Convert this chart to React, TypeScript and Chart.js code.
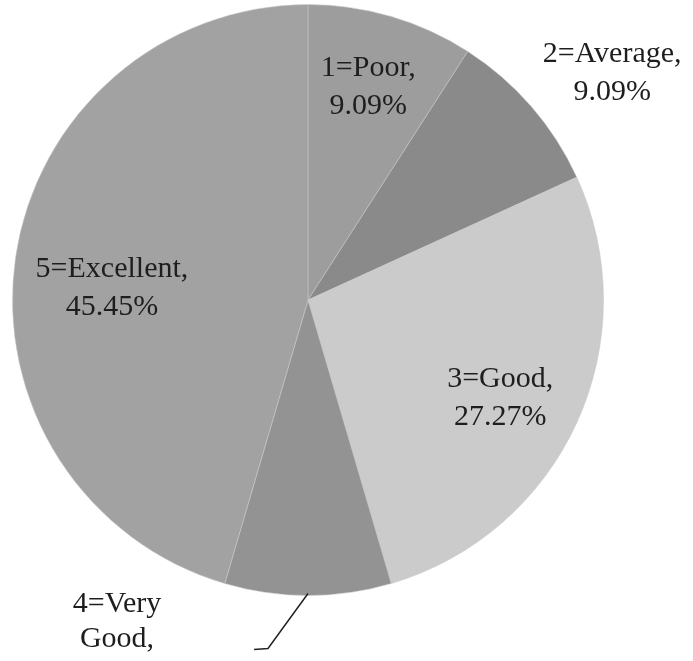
import React, { useEffect, useRef } from "react";
import { Chart, registerables } from "chart.js";

Chart.register(...registerables);

const categories = ["1=Poor", "2=Average", "3=Good", "4=Very Good", "5=Excellent"];
const labelLines = [
  ["1=Poor,", "9.09%"],
  ["2=Average,", "9.09%"],
  ["3=Good,", "27.27%"],
  ["4=Very", "Good,", "9.09%"],
  ["5=Excellent,", "45.45%"],
];
const values = [9.09, 9.09, 27.27, 9.09, 45.45];
const colors = ["#9d9d9d", "#8a8a8a", "#cbcbcb", "#939393", "#a2a2a2"];

// label placement: radius factor along mid-angle, plus pixel offset
const labelFactor = [0.76, 1.25, 0.73, 1.0, 0.66];
const labelOffset = [
  [-3, 0],
  [25, 13],
  [-4, 6],
  [0, 0],
  [-3, 14],
];

const labelPlugin = {
  id: "sliceLabels",
  afterDatasetsDraw(chart: any) {
    const ctx = chart.ctx;
    const meta = chart.getDatasetMeta(0);
    ctx.save();
    ctx.font = '30px "Liberation Serif", "Times New Roman", serif';
    ctx.fillStyle = "#1e1e1e";
    ctx.textAlign = "center";
    ctx.textBaseline = "alphabetic";
    meta.data.forEach((arc: any, i: number) => {
      const { x, y, startAngle, endAngle, outerRadius } = arc.getProps(
        ["x", "y", "startAngle", "endAngle", "outerRadius"],
        true
      );
      const mid = (startAngle + endAngle) / 2;
      const lines = labelLines[i];
      if (i === 3) {
        // leader line label
        const sx = x + Math.cos(mid) * outerRadius;
        const sy = y + Math.sin(mid) * outerRadius - 2;
        const ex = sx - 40;
        const ey = sy + 55;
        const fx = ex - 14;
        const fy = ey + 1;
        ctx.strokeStyle = "#222";
        ctx.lineWidth = 1.5;
        ctx.beginPath();
        ctx.moveTo(sx, sy);
        ctx.lineTo(ex, ey);
        ctx.lineTo(fx, fy);
        ctx.stroke();
        const tx = fx - 137;
        let by = sy + 18;
        lines.forEach((ln) => {
          ctx.fillText(ln, tx, by);
          by += 35;
        });
        return;
      }
      const r = outerRadius * labelFactor[i];
      const ax = x + Math.cos(mid) * r + labelOffset[i][0];
      const ay = y + Math.sin(mid) * r + labelOffset[i][1];
      let by = ay - 9;
      lines.forEach((ln) => {
        ctx.fillText(ln, ax, by);
        by += 38;
      });
    });
    ctx.restore();
  },
};

export default function App() {
  const ref = useRef<HTMLCanvasElement | null>(null);
  useEffect(() => {
    if (!ref.current) return;
    const chart = new Chart(ref.current, {
      type: "pie",
      data: {
        labels: categories,
        datasets: [
          {
            data: values,
            backgroundColor: colors,
            borderColor: "rgba(200,200,200,0.55)",
            borderWidth: 1,
          },
        ],
      },
      options: {
        responsive: false,
        animation: false,
        layout: { padding: { left: 12, right: 89, top: 4, bottom: 65 } },
        plugins: {
          legend: { display: false },
          tooltip: { enabled: false },
        },
      },
      plugins: [labelPlugin],
    });
    return () => chart.destroy();
  }, []);
  return (
    <div style={{ position: "fixed", left: 0, top: 0, width: 693, height: 661, background: "#fff" }}>
      <canvas ref={ref} width={693} height={661} style={{ display: "block" }} />
    </div>
  );
}
